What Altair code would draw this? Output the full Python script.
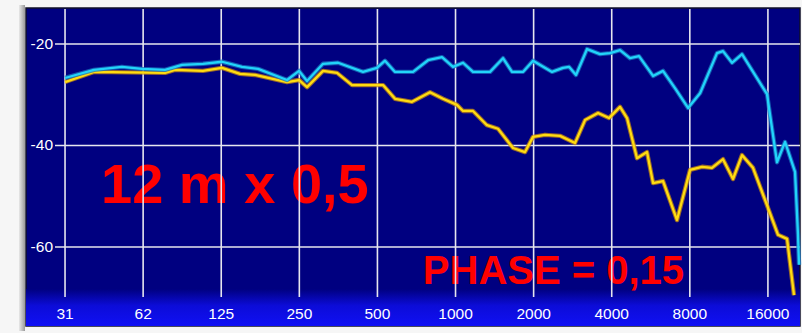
import altair as alt
import pandas as pd

# Measured response, frequency in Hz and level in dB
cyan_freq = [31.25, 40.4, 51.8, 61.9, 75.9, 88.3, 106.3, 125.9, 150.3, 173.3,
             224.2, 249.4, 267.7, 308.5, 352.5, 440, 498, 534.8, 584.5, 685.8,
             783.5, 887, 978, 1069, 1168, 1358, 1524, 1651, 1820, 1989,
             2355, 2596, 2738, 2914, 3213, 3606, 3940, 4306, 4704, 5097,
             5772, 6306, 7013, 7875, 8760, 10184, 10741, 11631, 12713, 15875,
             17341, 18625, 20353, 20894, 21085]
cyan_db = [-26.7, -25.1, -24.5, -24.9, -25.1, -24.1, -23.9, -23.5, -24.5, -24.9,
           -27.1, -25.3, -27.3, -23.9, -23.7, -25.5, -24.7, -23.3, -25.5, -25.5,
           -23.2, -22.6, -24.5, -23.7, -25.5, -25.5, -22.8, -25.5, -25.5, -23.3,
           -25.5, -24.7, -24.5, -26.1, -21.0, -22.0, -21.8, -21.2, -22.8, -22.4,
           -26.3, -25.3, -28.7, -32.6, -29.7, -21.8, -21.4, -23.7, -22.0, -29.9,
           -43.3, -39.3, -45.2, -57.6, -63.5]

yellow_freq = [31.25, 40.4, 75.9, 82.9, 106.3, 125.9, 147.7, 168.7, 224.2, 249.4,
               267.7, 308.5, 349.4, 399.1, 456, 525.6, 584.5, 679.7, 797.4, 895,
               1013, 1069, 1168, 1322, 1458, 1666, 1853, 1989, 2213, 2528,
               2888, 3156, 3543, 3904, 4306, 4582, 5006, 5472, 5772, 6306,
               7140, 8016, 8915, 9741, 10741, 11738, 12713, 14016, 16016, 17500,
               18962, 20169]
yellow_db = [-27.5, -25.5, -25.7, -25.1, -25.3, -24.7, -25.9, -26.1, -27.5, -27.1,
             -28.5, -25.3, -25.7, -28.1, -28.1, -28.1, -30.8, -31.4, -29.5, -30.8,
             -32.0, -33.2, -33.2, -36.0, -36.7, -40.5, -41.3, -38.3, -37.9, -38.1,
             -39.5, -35.0, -33.6, -34.6, -32.4, -34.6, -42.5, -41.3, -47.4, -47.0,
             -54.7, -44.8, -44.2, -44.4, -42.7, -46.6, -41.9, -44.4, -52.3, -57.6,
             -58.4, -69.5]

# Octave grid and level grid
tick_freq = [31.25, 62.5, 125, 250, 500, 1000, 2000, 4000, 8000, 16000]
tick_text = ["31", "62", "125", "250", "500", "1000", "2000", "4000", "8000", "16000"]
db_ticks = [-20, -40, -60]
db_text = ["-20", "-40", "-60"]

# Captions placed at (Hz, dB)
caption_text = ["12 m x 0,5", "PHASE = 0,15"]
caption_freq = [43.0, 748.0]
caption_db = [-51.3, -67.3]

W, H = 774, 318
FONT = "Liberation Sans"

xs = alt.Scale(type="log", base=2, domain=[22.1, 21270], nice=False)
ys = alt.Scale(domain=[-75.57, -12.91], nice=False, zero=False)

cyan_df = pd.DataFrame({"freq": cyan_freq, "db": cyan_db})
yellow_df = pd.DataFrame({"freq": yellow_freq, "db": yellow_db})
xtick_df = pd.DataFrame({"freq": tick_freq, "label": tick_text})
ytick_df = pd.DataFrame({"db": db_ticks, "label": db_text})
cap_df = pd.DataFrame({"freq": caption_freq, "db": caption_db, "label": caption_text})
one = pd.DataFrame({"k": [0]})

X = alt.X("freq:Q", scale=xs, axis=None)
Y = alt.Y("db:Q", scale=ys, axis=None)

# Bright blue band behind the frequency labels
band = alt.Chart(one).mark_rect(
    fill=alt.LinearGradient(
        gradient="linear", x1=0, x2=0, y1=0, y2=1,
        stops=[alt.GradientStop(color="#000080", offset=0),
               alt.GradientStop(color="#0c0cd8", offset=0.45),
               alt.GradientStop(color="#1010f4", offset=1)],
    )
).encode(x=alt.value(0), x2=alt.value(W), y=alt.value(281), y2=alt.value(H))

# Left bevel of the frame
bevel = alt.Chart(one).mark_rect(
    fill=alt.LinearGradient(
        gradient="linear", x1=0, x2=1, y1=0, y2=0,
        stops=[alt.GradientStop(color="#e8e8e8", offset=0),
               alt.GradientStop(color="#9a9a9a", offset=1)],
    )
).encode(x=alt.value(-7), x2=alt.value(-1), y=alt.value(-3), y2=alt.value(H + 5))

cap_big = alt.Chart(cap_df.iloc[[0]]).mark_text(
    font=FONT, fontWeight="bold", fontSize=56, color="#ff0000",
    align="left", baseline="alphabetic"
).encode(x=X, y=Y, text="label:N")

cap_small = alt.Chart(cap_df.iloc[[1]]).mark_text(
    font=FONT, fontWeight="bold", fontSize=40, color="#ff0000",
    align="left", baseline="alphabetic"
).encode(x=X, y=Y, text="label:N")

vgrid = alt.Chart(xtick_df).mark_rule(color="#e6e6ee", strokeWidth=1.6).encode(
    x=X, y=alt.value(1), y2=alt.value(289)
)
hgrid = alt.Chart(ytick_df).mark_rule(color="#e6e6ee", strokeWidth=1.6).encode(
    y=Y, x=alt.value(29), x2=alt.value(W)
)

def trace(df, glow, core):
    under = alt.Chart(df).mark_line(color=glow, strokeWidth=4.4, opacity=0.75,
                                    strokeJoin="round").encode(x=X, y=Y, order="freq:Q")
    top = alt.Chart(df).mark_line(color=core, strokeWidth=2.3,
                                  strokeJoin="round").encode(x=X, y=Y, order="freq:Q")
    return under + top

cyan = trace(cyan_df, "#1a78c0", "#22d4fa")
yellow = trace(yellow_df, "#c88a10", "#ffdc10")

xlabels = alt.Chart(xtick_df).mark_text(
    font=FONT, fontSize=15.5, color="#ffffff", align="center", baseline="alphabetic"
).encode(x=X, y=alt.value(311), text="label:N")

ylabels = alt.Chart(ytick_df).mark_text(
    font=FONT, fontSize=15.5, color="#ffffff", align="right", baseline="middle"
).encode(y=Y, x=alt.value(27), text="label:N")

chart = alt.layer(
    band, bevel, cap_big, cap_small, vgrid, hgrid, yellow, cyan, xlabels, ylabels
).properties(
    width=W, height=H,
    autosize=alt.AutoSizeParams(type="none"),
    padding={"left": 26, "top": 8, "right": 2, "bottom": 7},
    background="#f6f6f6",
).configure_view(fill="#000080", stroke="#101028", strokeWidth=1.5)

chart.save("out.html", embed_options={"renderer": "svg", "actions": False})
